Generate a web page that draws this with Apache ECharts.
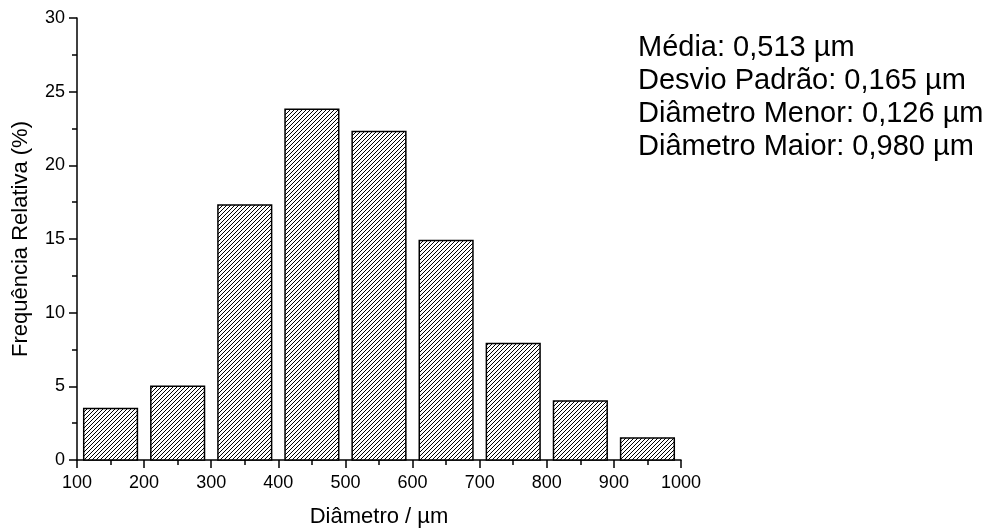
<!DOCTYPE html>
<html>
<head>
<meta charset="utf-8">
<script src="https://cdn.jsdelivr.net/npm/echarts@6/dist/echarts.min.js"></script>
<style>
html,body{margin:0;padding:0;background:#fff;}
#chart{width:1003px;height:529px;}
</style>
</head>
<body>
<div id="chart"></div>
<script>
// Data
const binCenters = [150, 250, 350, 450, 550, 650, 750, 850, 950];
const frequencies = [3.5, 5.0, 17.3, 23.8, 22.3, 14.9, 7.9, 4.0, 1.5];
const xTicks = [100, 200, 300, 400, 500, 600, 700, 800, 900, 1000];
const yTicks = [0, 5, 10, 15, 20, 25, 30];
const statsLines = [
  'Média: 0,513 µm',
  'Desvio Padrão: 0,165 µm',
  'Diâmetro Menor: 0,126 µm',
  'Diâmetro Maior: 0,980 µm'
];
const xName = 'Diâmetro / µm';
const yName = 'Frequência Relativa (%)';

const BIN_HALF = 40;
const FONT = '"Liberation Sans", Arial, sans-serif';

// hatch pattern
function makeHatch(s) {
  const c = document.createElement('canvas');
  c.width = s; c.height = s;
  const ctx = c.getContext('2d');
  ctx.fillStyle = '#fff';
  ctx.fillRect(0, 0, s, s);
  ctx.strokeStyle = '#000';
  ctx.lineWidth = 1;
  ctx.beginPath();
  ctx.moveTo(0, s); ctx.lineTo(s, 0);
  ctx.moveTo(-1, 1); ctx.lineTo(1, -1);
  ctx.moveTo(s - 1, s + 1); ctx.lineTo(s + 1, s - 1);
  ctx.stroke();
  return c;
}
const hatch = makeHatch(4);

const chart = echarts.init(document.getElementById('chart'), null, {renderer: 'canvas'});
const data = binCenters.map((x, i) => [x, frequencies[i]]);

function axisCommon() {
  return {
    type: 'value',
    nameLocation: 'middle',
    nameTextStyle: {fontFamily: FONT, fontSize: 22, color: '#000'},
    axisLine: {show: true, onZero: false, lineStyle: {color: '#000', width: 1.5}},
    axisTick: {show: true, inside: false, length: 8, lineStyle: {color: '#000', width: 1.5}},
    minorTick: {show: true, splitNumber: 2, length: 5, lineStyle: {color: '#000', width: 1.5}},
    axisLabel: {fontFamily: FONT, fontSize: 18, color: '#000', margin: 12, formatter: v => String(v)},
    splitLine: {show: false},
    minorSplitLine: {show: false}
  };
}

const option = {
  backgroundColor: '#fff',
  animation: false,
  grid: {left: 77, right: 322, top: 18, bottom: 69, containLabel: false, outerBoundsMode: 'none'},
  xAxis: Object.assign(axisCommon(), {
    min: xTicks[0], max: xTicks[xTicks.length - 1], interval: 100,
    name: xName, nameGap: 46
  }),
  yAxis: Object.assign(axisCommon(), {
    min: yTicks[0], max: yTicks[yTicks.length - 1], interval: 5,
    name: yName, nameGap: 45
  }),
  series: [{
    type: 'custom',
    data: data,
    encode: {x: 0, y: 1},
    renderItem: function (params, api) {
      const x = api.value(0), y = api.value(1);
      const p0 = api.coord([x - BIN_HALF, y]);
      const p1 = api.coord([x + BIN_HALF, 0]);
      return {
        type: 'rect',
        shape: {x: p0[0], y: p0[1], width: p1[0] - p0[0], height: p1[1] - p0[1]},
        style: {fill: {image: hatch, repeat: 'repeat'}, stroke: '#000', lineWidth: 1.5}
      };
    }
  }],
  graphic: [{
    type: 'text',
    left: 638, top: 31,
    style: {
      text: statsLines.join('\n'),
      font: '29px "Liberation Sans", Arial, sans-serif',
      lineHeight: 33,
      fill: '#000'
    }
  }]
};
option.xAxis.axisLabel = Object.assign({}, option.xAxis.axisLabel, {margin: 14});
chart.setOption(option);
</script>
</body>
</html>
